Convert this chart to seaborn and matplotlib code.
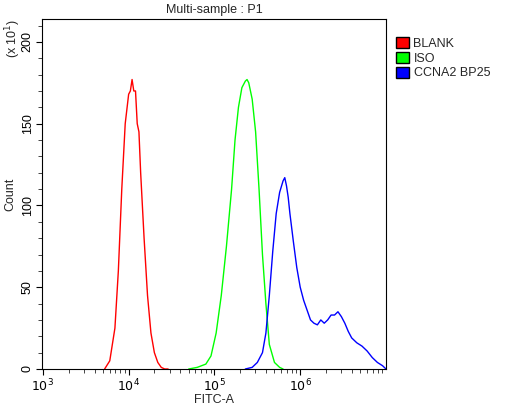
import numpy as np
import matplotlib
matplotlib.use("Agg")
import matplotlib.pyplot as plt
import seaborn as sns
from matplotlib.patches import Patch
import pandas as pd

sns.set_style("ticks")
plt.rcParams['font.family'] = ['Liberation Sans', 'DejaVu Sans']

# log10(FITC-A) and counts (x10)
blank_x = [3.72, 3.78, 3.84, 3.88, 3.92, 3.96, 4.00, 4.02, 4.04, 4.06, 4.08, 4.10, 4.12, 4.14, 4.18, 4.22, 4.26, 4.30, 4.34, 4.38, 4.42, 4.46]
blank_y = [0, 5, 25, 60, 110, 150, 168, 170, 177, 170, 170, 150, 145, 120, 80, 45, 22, 10, 4, 1, 0, 0]
iso_x = [4.70, 4.80, 4.90, 4.96, 5.02, 5.08, 5.14, 5.20, 5.24, 5.28, 5.32, 5.36, 5.38, 5.40, 5.44, 5.48, 5.52, 5.56, 5.60, 5.64, 5.70, 5.76, 5.80]
iso_y = [0, 1, 3, 8, 22, 45, 75, 110, 140, 160, 172, 176, 177, 175, 165, 145, 110, 70, 40, 15, 4, 1, 0]
ccna_x = [5.36, 5.44, 5.50, 5.56, 5.60, 5.64, 5.68, 5.72, 5.76, 5.80, 5.82, 5.84, 5.86, 5.88, 5.92, 5.96, 6.00, 6.04, 6.08, 6.12, 6.16, 6.20, 6.24, 6.28, 6.32, 6.36, 6.40, 6.44, 6.48, 6.52, 6.56, 6.60, 6.66, 6.72, 6.78, 6.84, 6.90, 6.96, 7.00]
ccna_y = [0, 1, 4, 10, 22, 45, 72, 95, 108, 115, 117, 112, 105, 95, 78, 62, 50, 42, 36, 30, 28, 27, 30, 28, 30, 33, 33, 35, 32, 28, 23, 19, 16, 14, 11, 7, 4, 2, 0]

names = ["BLANK", "ISO", "CCNA2 BP25"]
colors = ["#ff0000", "#00ff00", "#0000ff"]

df = pd.concat([
    pd.DataFrame({"x": np.power(10.0, blank_x), "y": blank_y, "s": names[0]}),
    pd.DataFrame({"x": np.power(10.0, iso_x), "y": iso_y, "s": names[1]}),
    pd.DataFrame({"x": np.power(10.0, ccna_x), "y": ccna_y, "s": names[2]}),
])

fig = plt.figure(figsize=(5.24, 4.08), dpi=100)
ax = fig.add_axes([42/524, 1-369/408, 344/524, 350/408])
sns.lineplot(data=df, x="x", y="y", hue="s", palette=colors, ax=ax,
             legend=False, linewidth=1, sort=False, estimator=None)
ax.set_xscale("log")
ax.set_xlim(10**2.99, 10**7)
ax.set_ylim(0, 214)
ax.set_yticks([0, 50, 100, 150, 200])
ax.set_yticks(range(0, 214, 10), minor=True)
ax.set_xticks([1e3, 1e4, 1e5, 1e6])
ax.set_xticklabels(["$10^3$", "$10^4$", "$10^5$", "$10^6$"])
for lbl in ax.get_yticklabels():
    lbl.set_rotation(90); lbl.set_va("center")
ax.tick_params(labelsize=9, direction="out", length=4, width=0.8, colors="black", pad=2)
ax.tick_params(which="minor", length=3)
for sp in ax.spines.values():
    sp.set_color("black"); sp.set_linewidth(0.8)
ax.set_xlabel("FITC-A", fontsize=9, labelpad=0)
ax.set_ylabel("Count", fontsize=9, labelpad=4)
ax.set_title("Multi-sample : P1", fontsize=9, pad=4)
fig.text(3/524, 1-38/408, "(x 10$^1$)", rotation=90, fontsize=9, ha="left", va="center")

handles = [Patch(facecolor=c, edgecolor="black", label=n) for c, n in zip(colors, names)]
fig.legend(handles=handles, loc="upper left", bbox_to_anchor=(396/524, 1-37/408), frameon=False,
           fontsize=9, handlelength=1.0, handleheight=1.0, handletextpad=0.4, labelspacing=0.15,
           borderaxespad=0, borderpad=0)
fig.savefig("out.png", dpi=100)
